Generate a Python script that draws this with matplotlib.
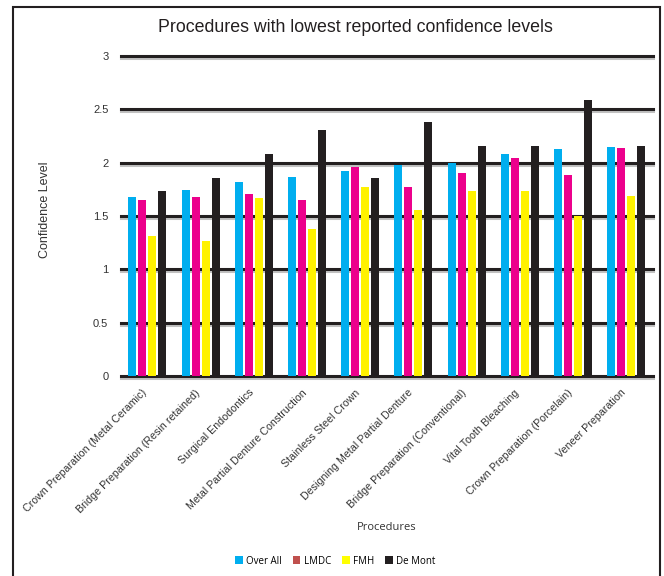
import matplotlib
matplotlib.use("Agg")
import matplotlib.pyplot as plt
import matplotlib.patheffects as pe
import matplotlib.transforms as mtransforms
from matplotlib.patches import Patch, Rectangle
import numpy as np

plt.rcParams['font.family'] = ['Liberation Sans', 'DejaVu Sans']

# data
procedures = ["Crown Preparation (Metal Ceramic)", "Bridge Preparation (Resin retained)",
              "Surgical Endodontics", "Metal Partial Denture Construction",
              "Stainless Steel Crown", "Designing Metal Partial Denture",
              "Bridge Preparation (Conventional)", "Vital Tooth Bleaching",
              "Crown Preparation (Porcelain)", "Veneer Preparation"]
over_all = [1.68, 1.74, 1.82, 1.87, 1.92, 1.98, 2.00, 2.08, 2.13, 2.15]
lmdc = [1.65, 1.68, 1.71, 1.65, 1.96, 1.77, 1.90, 2.04, 1.88, 2.14]
fmh = [1.31, 1.27, 1.67, 1.38, 1.77, 1.56, 1.73, 1.73, 1.50, 1.69]
de_mont = [1.73, 1.86, 2.08, 2.31, 1.86, 2.38, 2.16, 2.16, 2.59, 2.16]

series = [over_all, lmdc, fmh, de_mont]
names = ["Over All", "LMDC", "FMH", "De Mont"]
bar_colors = ["#00aeef", "#ec008c", "#fff200", "#231f20"]
legend_colors = ["#00aeef", "#c0504d", "#ffff00", "#231f20"]

fig = plt.figure(figsize=(6.64, 5.76), dpi=100)
ax = fig.add_axes([0.182, 0.347, 0.801, 0.556])

x = np.arange(len(procedures))
step = 0.188
w = 0.15
for i, (vals, col) in enumerate(zip(series, bar_colors)):
    ax.bar(x + (i - 1.5) * step, vals, width=w, color=col, zorder=3)

# gridlines with a little grey shadow
for yv in np.arange(0, 3.01, 0.5):
    ax.axhline(yv, color="#231f20", lw=2.2, zorder=1, clip_on=False,
               path_effects=[pe.SimpleLineShadow(offset=(0, -1.5), shadow_color="#999999", alpha=0.6),
                             pe.Normal()])

ax.set_xlim(-0.5, len(procedures) - 0.5)
ax.set_ylim(0, 3)
ax.set_yticks(np.arange(0, 3.01, 0.5))
ax.set_yticklabels(["0", "0.5", "1", "1.5", "2", "2.5", "3"], fontsize=8, color="#333333")
ax.set_xticks(x)
ax.set_xticklabels([])
ax.tick_params(axis="both", length=0)
ax.tick_params(axis="y", pad=9)
for s in ax.spines.values():
    s.set_visible(False)

# rotated category labels, right end just under each group
lab_tr = ax.get_xaxis_transform() + mtransforms.ScaledTranslation(-2 / 100, -15 / 100, fig.dpi_scale_trans)
for xi, name in zip(x, procedures):
    ax.text(xi, 0, name, transform=lab_tr, rotation=45, ha="right", va="center",
            rotation_mode="anchor", fontsize=7.7, color="#333333")

ax.set_ylabel("Confidence Level", fontsize=9, color="#333333")
ax.yaxis.set_label_coords(-0.131, 0.52)
fig.text(0.582, 0.085, "Procedures", ha="center", va="center", fontsize=8,
         color="#333333", family=["Open Sans", "DejaVu Sans"])
fig.text(0.535, 0.953, "Procedures with lowest reported confidence levels",
         ha="center", va="center", fontsize=12.8, color="#231f20")

handles = [Patch(facecolor=c, edgecolor="none") for c in legend_colors]
fig.legend(handles, names, loc="center", bbox_to_anchor=(0.505, 0.026), ncol=4,
           frameon=False, handlelength=0.8, handleheight=0.8, handletextpad=0.35,
           columnspacing=1.1, prop={"family": ["Open Sans", "DejaVu Sans"], "size": 7})

fig.patches.append(Rectangle((13 / 664, -0.05), (660 - 13) / 664, 1.05 - 7 / 576,
                             transform=fig.transFigure, fill=False,
                             edgecolor="#231f20", lw=1.5))

fig.savefig("out.png", dpi=100)
